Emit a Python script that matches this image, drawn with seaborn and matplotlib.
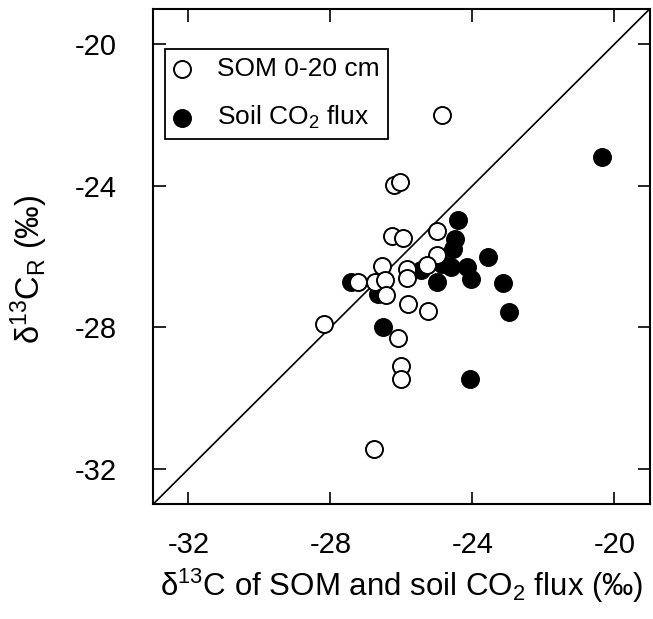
import numpy as np
import pandas as pd
import seaborn as sns
import matplotlib.pyplot as plt

sns.set_style("ticks")
plt.rcParams['font.family'] = ['Liberation Sans', 'DejaVu Sans']
plt.rcParams['mathtext.fontset'] = 'custom'
plt.rcParams['mathtext.rm'] = 'Liberation Sans'
plt.rcParams['mathtext.it'] = 'Liberation Sans:italic'
plt.rcParams['text.color'] = 'black'
plt.rcParams['axes.labelcolor'] = 'black'
plt.rcParams['xtick.color'] = 'black'
plt.rcParams['ytick.color'] = 'black'

# SOM 0-20 cm (open circles)
som_x = [-24.85, -26.20, -26.04, -26.28, -25.95, -25.01, -25.01, -25.29,
         -27.22, -26.75, -26.55, -26.47, -26.44, -25.85, -25.85, -25.83,
         -25.24, -28.17, -26.09, -26.02, -26.02, -26.77]
som_y = [-22.00, -23.97, -23.90, -25.43, -25.47, -25.28, -25.97, -26.24,
         -26.71, -26.73, -26.27, -26.67, -27.09, -26.34, -26.62, -27.34,
         -27.53, -27.90, -28.29, -29.10, -29.47, -31.44]

# Soil CO2 flux (filled circles)
flux_x = [-20.35, -24.42, -24.50, -24.56, -25.46, -24.87, -24.61, -24.16,
          -24.03, -24.99, -23.55, -23.14, -22.97, -24.07, -27.42, -26.65,
          -26.53]
flux_y = [-23.18, -24.96, -25.52, -25.80, -26.38, -26.22, -26.31, -26.31,
          -26.65, -26.71, -26.01, -26.74, -27.56, -29.47, -26.71, -27.06,
          -27.98]

lims = [-33, -19]
ticks = [-32, -28, -24, -20]

som = pd.DataFrame({'x': som_x, 'y': som_y})
flux = pd.DataFrame({'x': flux_x, 'y': flux_y})

fig = plt.figure(figsize=(6.53, 6.19), dpi=100)
ax = fig.add_axes([0.2343, 0.1853, 0.7611, 0.8007])

ax.plot(lims, lims, color='black', lw=1.2, zorder=1)

sns.scatterplot(data=flux, x='x', y='y', color='black', edgecolor='black',
                linewidth=1.4, s=150, label='Soil CO$_2$ flux', ax=ax, zorder=2)
sns.scatterplot(data=som, x='x', y='y', color='white', edgecolor='black',
                linewidth=1.4, s=150, label='SOM 0-20 cm', ax=ax, zorder=3)

ax.set_xlim(lims)
ax.set_ylim(lims)
ax.set_xticks(ticks)
ax.set_yticks(ticks)
ax.set_xticklabels([str(t) for t in ticks])
ax.set_yticklabels([str(t) for t in ticks])
ax.tick_params(direction='in', length=9, width=1.2, top=True, right=True,
               labelsize=21)
ax.tick_params(axis='x', pad=19)
ax.tick_params(axis='y', pad=26)
for sp in ax.spines.values():
    sp.set_linewidth(1.5)
    sp.set_color('black')
    sp.set_visible(True)

ax.set_xlabel('δ$^{13}$C of SOM and soil CO$_2$ flux (‰)', fontsize=22.5, labelpad=6)
ax.set_ylabel('δ$^{13}$C$_\\mathrm{R}$ (‰)', fontsize=23.5)
ax.yaxis.set_label_coords(-0.207, 0.475)

h, l = ax.get_legend_handles_labels()
leg = ax.legend(h[::-1], l[::-1], loc='upper left', bbox_to_anchor=(0.024, 0.919),
                borderaxespad=0, fontsize=19, frameon=True, fancybox=False,
                edgecolor='black', handletextpad=0.98, labelspacing=0.85,
                borderpad=0.32, handlelength=0.67)
leg.get_frame().set_linewidth(1.3)
leg.get_frame().set_alpha(1)

fig.savefig('out.png', dpi=100)
